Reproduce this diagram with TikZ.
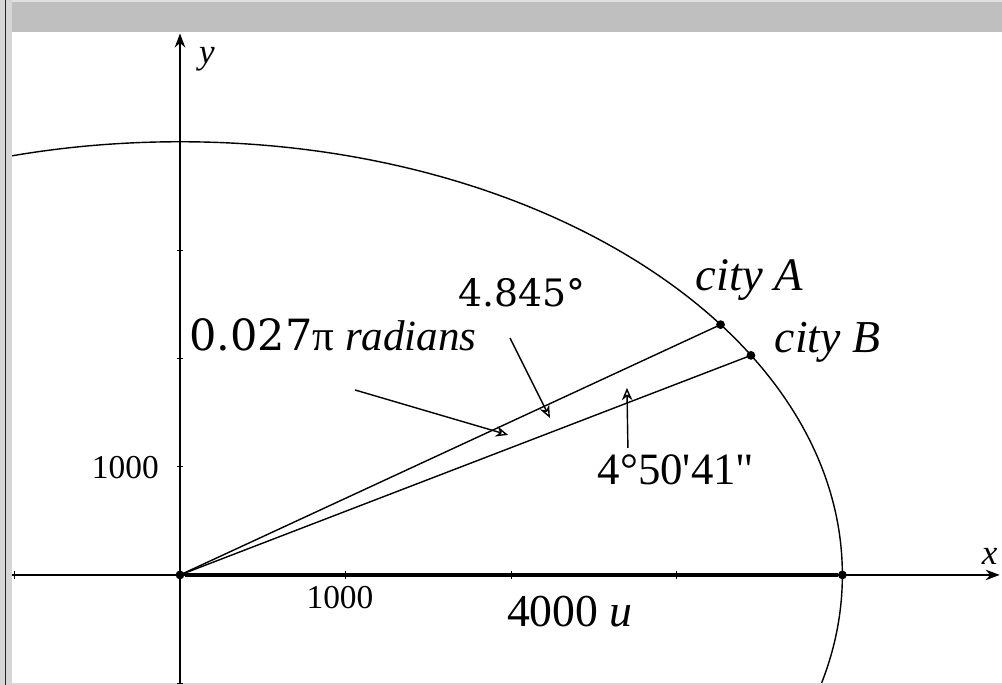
\documentclass[tikz,border=0pt]{standalone}
\usepackage{fontspec}
\setmainfont{Liberation Serif}
\newfontfamily\dvserif{DejaVu Serif}
\usetikzlibrary{arrows.meta}

\begin{document}
\begin{tikzpicture}[x=3.312cm, y=2.166cm,
    axis/.style={line width=0.8pt, -{Stealth[length=8pt,width=6pt]}},
    ray/.style={line width=0.8pt},
    pointer/.style={line width=0.8pt, -{Stealth[open,length=7pt,width=6pt]}},
    dot/.style={circle, fill=black, inner sep=0pt, minimum size=5pt},
    lbl/.style={font=\fontsize{26}{29}\selectfont, inner sep=0pt},
    ticklbl/.style={font=\fontsize{19}{21}\selectfont, inner sep=0pt}]

    \useasboundingbox (-1.087,-1.0157) rectangle (4.964,5.309);

    % window frame
    \fill[black!16] (-1.087,-1.0157) rectangle (-1.0145,5.309);
    \draw[black!85, line width=1.1pt] (-1.0538,-1.0157) -- (-1.0538,5.309);
    \fill[black!25] (-1.0145,5.014) rectangle (4.964,5.291);
    \fill[black!12] (-1.0145,5.291) rectangle (4.964,5.309);
    \fill[black!15] (-1.0145,-0.997) rectangle (4.964,-1.0157);

    % circle of radius 4000
    \begin{scope}
      \clip (-1.0145,-0.997) rectangle (4.964,5.014);
      \draw[ray] (0,0) circle[radius=4];
    \end{scope}

    % axes and ticks
    \draw[axis] (-1.0145,0) -- (4.95,0);
    \draw[axis] (0,-0.997) -- (0,5.0);
    \foreach \t in {-1,1,2,3}
      \draw[line width=0.6pt] (\t,-0.035) -- (\t,0.035);
    \foreach \t in {-1,1,2,3,4}
      \draw[line width=0.6pt] (-0.02,\t) -- (0.02,\t);
    \node[font=\itshape\fontsize{20}{22}\selectfont] (ylab) at (0.163,4.76) {y};
    \node[font=\itshape\fontsize{20}{22}\selectfont] (xlab) at (4.89,0.17) {x};
    \node[ticklbl] (ytick) at (-0.33,0.99) {1000};
    \node[ticklbl] (xtick) at (0.966,-0.21) {1000};

    % points
    \node[dot] (O) at (0,0) {};
    \node[dot] (R) at (4,0) {};
    \node[dot] (A) at (35.3:4) {};
    \node[dot] (B) at (30.455:4) {};
    \draw[line width=2.3pt] (O) -- (R);
    \draw[ray] (O.center) -- (A.center);
    \draw[ray] (O.center) -- (B.center);

    % labels
    \node[lbl, font=\itshape\fontsize{26.5}{29}\selectfont] (cityA) at (3.44,2.72) {city A};
    \node[lbl, font=\itshape\fontsize{26}{29}\selectfont] (cityB) at (3.91,2.15) {city B};
    \node[lbl] (len) at (2.355,-0.34) {4000 \textit{u}};
    \node[lbl] (deg) at (2.065,2.61) {\dvserif\fontsize{21.5}{24}\selectfont 4.845°};
    \node[lbl, font=\fontsize{24.5}{27}\selectfont] (rad) at (0.924,2.22) {{\dvserif 0.027}π \textit{radians}};
    \node[lbl, font=\fontsize{25.5}{28}\selectfont] (dms) at (2.995,0.97) {4°50\textquotesingle 41\textquotedbl};

    % pointers
    \coordinate (radS) at (1.057,1.708);
    \coordinate (radE) at (1.981,1.293);
    \coordinate (degS) at (1.993,2.188);
    \coordinate (degE) at (2.234,1.450);
    \coordinate (dmsS) at (2.705,1.173);
    \coordinate (dmsE) at (2.699,1.727);
    \draw[pointer] (radS) -- (radE);
    \draw[pointer] (degS) -- (degE);
    \draw[pointer] (dmsS) -- (dmsE);
\end{tikzpicture}
\end{document}
